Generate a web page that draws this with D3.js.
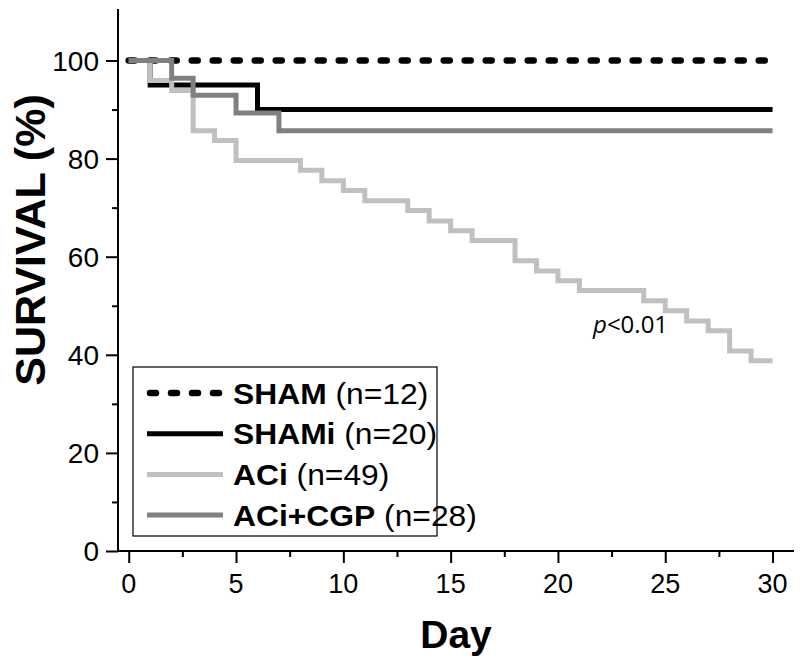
<!DOCTYPE html>
<html>
<head>
<meta charset="utf-8">
<script src="https://cdn.jsdelivr.net/npm/d3@7"></script>
<style>
  body { margin: 0; background: #fff; }
  svg { display: block; }
</style>
</head>
<body>
<svg id="chart" width="800" height="669"></svg>
<script>
// survival curves: day of each step and survival (%) from that day on
const shamDays = [0];
const shamSurv = [100];

const shamiDays = [0, 1, 6];
const shamiSurv = [100, 95, 90];

const aciDays = [0, 1, 2, 3, 4, 5, 8, 9, 10, 11, 13, 14, 15, 16, 18, 19, 20, 21, 24, 25, 26, 27, 28, 29];
const aciSurv = [100, 95.9, 93.9, 85.7, 83.7, 79.6, 77.6, 75.5, 73.5, 71.4, 69.4, 67.3, 65.3, 63.3,
                 59.2, 57.1, 55.1, 53.1, 51.0, 49.0, 46.9, 44.9, 40.8, 38.8];

const cgpDays = [0, 2, 3, 5, 7];
const cgpSurv = [100, 96.4, 92.9, 89.3, 85.7];

const endDay = 30;

const groupNames = ["SHAM", "SHAMi", "ACi", "ACi+CGP"];
const groupN = [12, 20, 49, 28];

const xTicks = [0, 5, 10, 15, 20, 25, 30];
const yTicks = [0, 20, 40, 60, 80, 100];

const svg = d3.select("#chart");

const x = d3.scaleLinear().domain([-0.5, 31]).range([118, 794]);
const y = d3.scaleLinear().domain([0, 110.5]).range([551, 9]);

const series = [
  {name: groupNames[0], n: groupN[0], days: shamDays, surv: shamSurv, color: "#000", dash: "6,15", w: 6.5},
  {name: groupNames[1], n: groupN[1], days: shamiDays, surv: shamiSurv, color: "#000", dash: null, w: 5},
  {name: groupNames[2], n: groupN[2], days: aciDays, surv: aciSurv, color: "#c0c0c0", dash: null, w: 5},
  {name: groupNames[3], n: groupN[3], days: cgpDays, surv: cgpSurv, color: "#808080", dash: null, w: 5}
];

const line = d3.line()
    .x(d => x(d[0]))
    .y(d => y(d[1]))
    .curve(d3.curveStepAfter);

series.forEach(s => {
  let pts = s.days.map((d, i) => [d, s.surv[i]]);
  pts.push([endDay, s.surv[s.surv.length - 1]]);
  svg.append("path")
      .attr("d", line(pts))
      .attr("fill", "none")
      .attr("stroke", s.color)
      .attr("stroke-width", s.w)
      .attr("stroke-dasharray", s.dash)
      .attr("stroke-linecap", s.dash ? "round" : "butt");
});

// axes
let xAxis = svg.append("g")
    .attr("transform", "translate(0," + y(0) + ")")
    .call(d3.axisBottom(x).tickValues(d3.range(0, 31, 2.5)).tickSize(12).tickFormat(""));
xAxis.selectAll(".tick line").attr("y2", d => d % 5 === 0 ? 12 : 6);

let yAxis = svg.append("g")
    .attr("transform", "translate(" + x(-0.5) + ",0)")
    .call(d3.axisLeft(y).tickValues(d3.range(0, 101, 10)).tickSize(12).tickFormat(""));
yAxis.selectAll(".tick line").attr("x2", d => d % 20 === 0 ? -12 : -6);

xAxis.select(".domain").remove();
yAxis.select(".domain").remove();
svg.selectAll(".tick line").attr("stroke", "#000").attr("stroke-width", 2);

svg.append("line")
    .attr("x1", x(-0.5)).attr("x2", x(31))
    .attr("y1", y(0)).attr("y2", y(0))
    .attr("stroke", "#000").attr("stroke-width", 2);
svg.append("line")
    .attr("x1", x(-0.5)).attr("x2", x(-0.5))
    .attr("y1", y(0) + 1).attr("y2", y(110.5))
    .attr("stroke", "#000").attr("stroke-width", 2);

svg.selectAll(".xlab")
  .data(xTicks)
  .enter().append("text")
    .attr("x", d => x(d))
    .attr("y", 593)
    .attr("text-anchor", "middle")
    .style("font", "27px 'Liberation Sans', Arial, sans-serif")
    .text(d => d);

svg.selectAll(".ylab")
  .data(yTicks)
  .enter().append("text")
    .attr("x", 99)
    .attr("y", d => y(d))
    .attr("dy", "0.36em")
    .attr("text-anchor", "end")
    .style("font", "28px 'Liberation Sans', Arial, sans-serif")
    .text(d => d);

svg.append("text")
    .attr("transform", "translate(45,240) rotate(-90)")
    .attr("text-anchor", "middle")
    .style("font", "bold 43px 'Liberation Sans', Arial, sans-serif")
    .text("SURVIVAL (%)");

svg.append("text")
    .attr("x", 456)
    .attr("y", 648)
    .attr("text-anchor", "middle")
    .style("font", "bold 39px 'Liberation Sans', Arial, sans-serif")
    .text("Day");

svg.append("text")
    .attr("x", 593)
    .attr("y", 333)
    .style("font", "24px 'Open Sans', sans-serif")
    .html("<tspan font-style='italic'>p</tspan>&lt;0.01");

// legend
let legend = svg.append("g");
legend.append("rect")
    .attr("x", 133).attr("y", 367)
    .attr("width", 304).attr("height", 169)
    .attr("fill", "#fff").attr("stroke", "#000").attr("stroke-width", 1.2);

series.forEach((s, i) => {
  let cy = 393 + i * 40.7;
  legend.append("line")
      .attr("x1", s.dash ? 150 : 147).attr("x2", s.dash ? 222 : 223)
      .attr("y1", cy).attr("y2", cy)
      .attr("stroke", s.color)
      .attr("stroke-width", s.w)
      .attr("stroke-dasharray", s.dash)
      .attr("stroke-linecap", s.dash ? "round" : "butt");
  let t = legend.append("text")
      .attr("transform", "translate(233," + (cy + 10.5) + ") scale(1.06,1)")
      .style("font", "30px 'Liberation Sans', Arial, sans-serif");
  t.append("tspan").attr("font-weight", "bold").text(s.name);
  t.append("tspan").text(" (n=" + s.n + ")");
});
</script>
</body>
</html>
